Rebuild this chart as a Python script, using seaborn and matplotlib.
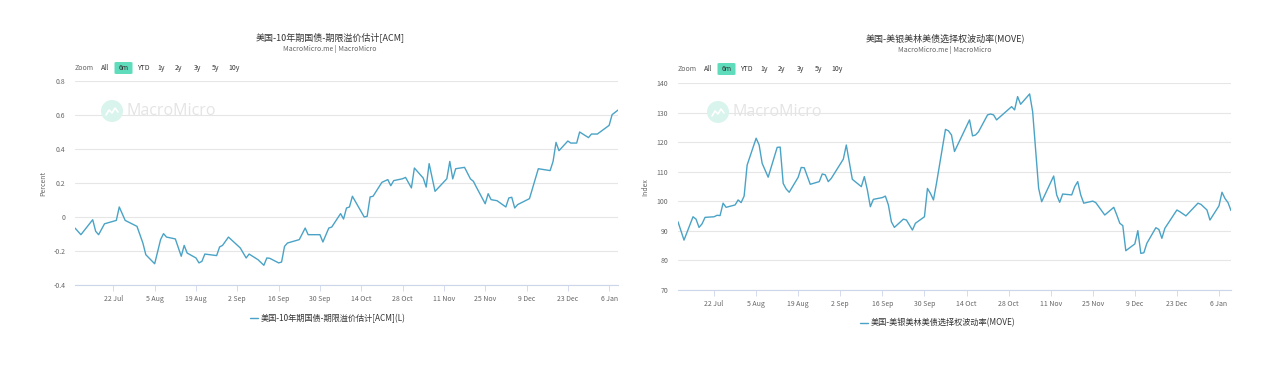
import numpy as np
import pandas as pd
import matplotlib.pyplot as plt
import matplotlib.dates as mdates
from matplotlib.patches import Ellipse, FancyBboxPatch
from matplotlib.lines import Line2D
import seaborn as sns

# ---- data ----
acm_dates = ["2024-07-09", "2024-07-11", "2024-07-15", "2024-07-16", "2024-07-17", "2024-07-19",
             "2024-07-23", "2024-07-24", "2024-07-26", "2024-07-30", "2024-08-01", "2024-08-02",
             "2024-08-05", "2024-08-07", "2024-08-08", "2024-08-09", "2024-08-12", "2024-08-14",
             "2024-08-15", "2024-08-16", "2024-08-19", "2024-08-20", "2024-08-21", "2024-08-22",
             "2024-08-26", "2024-08-27", "2024-08-28", "2024-08-30", "2024-09-03", "2024-09-05",
             "2024-09-06", "2024-09-09", "2024-09-11", "2024-09-12", "2024-09-13", "2024-09-16",
             "2024-09-17", "2024-09-18", "2024-09-19", "2024-09-23", "2024-09-25", "2024-09-26",
             "2024-09-30", "2024-10-01", "2024-10-03", "2024-10-04", "2024-10-07",
             "2024-10-08", "2024-10-09", "2024-10-10", "2024-10-11", "2024-10-15", "2024-10-16",
             "2024-10-17", "2024-10-18", "2024-10-21", "2024-10-23", "2024-10-24", "2024-10-25",
             "2024-10-28", "2024-10-29", "2024-10-31",
             "2024-11-01", "2024-11-04", "2024-11-05", "2024-11-06", "2024-11-08", "2024-11-12",
             "2024-11-13", "2024-11-14", "2024-11-15", "2024-11-18", "2024-11-20", "2024-11-21",
             "2024-11-22", "2024-11-25", "2024-11-26", "2024-11-27", "2024-11-29",
             "2024-12-02", "2024-12-03", "2024-12-04", "2024-12-05", "2024-12-06", "2024-12-10",
             "2024-12-13", "2024-12-17", "2024-12-18", "2024-12-19", "2024-12-20", "2024-12-23",
             "2024-12-24", "2024-12-26", "2024-12-27", "2024-12-30", "2024-12-31",
             "2025-01-02", "2025-01-06", "2025-01-07", "2025-01-09"]
acm_values = [-0.065, -0.104, -0.016, -0.084, -0.104, -0.04, -0.02, 0.059, -0.02, -0.055, -0.153, -0.222,
              -0.275, -0.133, -0.098, -0.118, -0.129, -0.231, -0.167, -0.212, -0.241, -0.27, -0.261, -0.218,
              -0.227, -0.176, -0.167, -0.118, -0.182, -0.241, -0.218, -0.251, -0.284, -0.241, -0.243, -0.27,
              -0.265, -0.173, -0.153, -0.133, -0.065, -0.104, -0.104, -0.147, -0.065, -0.059, 0.02,
              -0.012, 0.053, 0.059, 0.122, 0.0, 0.004, 0.118, 0.122, 0.204, 0.22, 0.184, 0.214,
              0.225, 0.233, 0.171,
              0.288, 0.229, 0.176, 0.314, 0.151, 0.225, 0.327, 0.224, 0.284, 0.292, 0.224, 0.21,
              0.176, 0.078, 0.137, 0.102, 0.096,
              0.059, 0.112, 0.116, 0.053, 0.073, 0.108, 0.284, 0.273, 0.327, 0.439, 0.39, 0.447,
              0.435, 0.435, 0.5, 0.467, 0.488,
              0.488, 0.539, 0.602, 0.629]

move_dates = ["2024-07-10", "2024-07-12", "2024-07-15", "2024-07-16", "2024-07-17", "2024-07-18",
              "2024-07-19", "2024-07-22", "2024-07-23", "2024-07-24", "2024-07-25", "2024-07-26",
              "2024-07-29", "2024-07-30", "2024-07-31", "2024-08-01", "2024-08-02", "2024-08-05",
              "2024-08-06", "2024-08-07", "2024-08-09", "2024-08-12", "2024-08-13", "2024-08-14",
              "2024-08-15", "2024-08-16", "2024-08-19", "2024-08-20", "2024-08-21", "2024-08-23",
              "2024-08-26", "2024-08-27", "2024-08-28", "2024-08-29", "2024-08-30", "2024-09-03",
              "2024-09-04", "2024-09-06", "2024-09-09", "2024-09-10", "2024-09-11", "2024-09-12",
              "2024-09-13", "2024-09-16", "2024-09-17", "2024-09-18", "2024-09-19", "2024-09-20",
              "2024-09-23", "2024-09-24", "2024-09-26", "2024-09-27", "2024-09-30", "2024-10-01",
              "2024-10-02", "2024-10-03", "2024-10-04", "2024-10-07", "2024-10-08", "2024-10-09",
              "2024-10-10", "2024-10-15", "2024-10-16", "2024-10-17", "2024-10-18", "2024-10-21",
              "2024-10-22", "2024-10-23", "2024-10-24", "2024-10-29", "2024-10-30", "2024-10-31",
              "2024-11-01", "2024-11-04", "2024-11-05", "2024-11-07", "2024-11-08", "2024-11-12",
              "2024-11-13", "2024-11-14", "2024-11-15", "2024-11-18", "2024-11-19", "2024-11-20",
              "2024-11-21", "2024-11-22", "2024-11-25", "2024-11-26", "2024-11-29", "2024-12-02",
              "2024-12-03", "2024-12-04", "2024-12-05", "2024-12-06", "2024-12-09", "2024-12-10",
              "2024-12-11", "2024-12-12", "2024-12-13", "2024-12-16", "2024-12-17", "2024-12-18",
              "2024-12-19", "2024-12-23", "2024-12-24", "2024-12-26", "2024-12-30", "2024-12-31",
              "2025-01-02", "2025-01-03", "2025-01-06", "2025-01-07", "2025-01-08", "2025-01-09",
              "2025-01-10"]
move_values = [93.1, 86.9, 94.8, 94.0, 91.2, 92.4,
               94.6, 94.8, 95.3, 95.2, 99.4, 98.0,
               98.8, 100.5, 99.6, 101.8, 112.3, 121.4,
               119.1, 112.9, 108.2, 118.3, 118.4, 106.1,
               104.2, 103.1, 108.2, 111.5, 111.4, 105.8,
               106.7, 109.3, 109.0, 106.7, 107.8, 114.3,
               119.1, 107.5, 105.0, 108.4, 103.9, 98.2,
               100.7, 101.3, 101.8, 98.8, 93.1, 91.2,
               94.0, 93.7, 90.3, 92.6, 94.8, 104.4,
               102.7, 100.5, 106.1, 124.4, 123.9, 122.5,
               116.9, 127.6, 122.2, 122.5, 123.6, 129.3,
               129.6, 129.3, 127.6, 132.1, 131.0, 135.5,
               132.9, 136.4, 130.4, 104.4, 99.9, 108.6,
               102.2, 99.7, 102.5, 102.2, 105.0, 106.7,
               102.2, 99.4, 100.1, 99.6, 95.4, 98.0,
               95.4, 92.6, 91.8, 83.3, 85.6, 90.1,
               82.4, 82.6, 85.8, 91.1, 90.5, 87.5,
               90.9, 97.1, 96.5, 95.1, 99.4, 99.0,
               97.1, 93.7, 98.5, 103.1, 101.0, 99.6,
               96.9]

acm_title = "美国-10年期国债-期限溢价估计[ACM]"
acm_legend = "美国-10年期国债-期限溢价估计[ACM](L)"
move_title = "美国-美银美林美债选择权波动率(MOVE)"
move_legend = "美国-美银美林美债选择权波动率(MOVE)"
subtitle = "MacroMicro.me | MacroMicro"
acm_yticks = [-0.4, -0.2, 0, 0.2, 0.4, 0.6, 0.8]
acm_yticklabels = ["-0.4", "-0.2", "0", "0.2", "0.4", "0.6", "0.8"]
move_yticks = [70, 80, 90, 100, 110, 120, 130, 140]
range_buttons = ["All", "6m", "YTD", "1y", "2y", "3y", "5y", "10y"]

sns.set_theme(style="white")
plt.rcParams['font.family'] = ['Noto Sans CJK SC', 'DejaVu Sans']

W, H = 1262, 379
fig = plt.figure(figsize=(W / 100, H / 100), dpi=100)
fig.patch.set_facecolor("white")

LINE = "#4aa3c6"
GRID = "#e6e6e6"
AXIS = "#ccd6eb"
LABEL = "#666666"


def fx(x):
    return x / W


def fy(y):
    return 1 - y / H


def draw_panel(rect, dates, values, yticks, yticklabels, ylim, ylabel, title, legend_text,
               cx, ty, sel_x, sel_y, wm_x, wm_y, legend_pos):
    ax = fig.add_axes(rect)
    df = pd.DataFrame({"date": pd.to_datetime(dates), "value": values})
    sns.lineplot(data=df, x="date", y="value", ax=ax, color=LINE, linewidth=1.0, label=legend_text)
    ax.set_xlim(df["date"].iloc[0], df["date"].iloc[-1])
    ax.set_ylim(*ylim)
    ax.set_yticks(yticks)
    ax.set_yticklabels(yticklabels)
    ticks = pd.date_range("2024-07-22", "2025-01-06", freq="14D")
    ax.set_xticks(ticks)
    ax.xaxis.set_major_formatter(mdates.DateFormatter("%-d %b"))
    ax.set_xlabel("")
    ax.set_ylabel(ylabel, fontsize=5, color=LABEL)
    ax.yaxis.set_label_coords(-0.052, 0.5)
    ax.grid(axis="y", color=GRID, linewidth=0.8)
    ax.grid(axis="x", visible=False)
    for s in ["top", "right", "left"]:
        ax.spines[s].set_visible(False)
    ax.spines["bottom"].set_color(AXIS)
    ax.spines["bottom"].set_linewidth(0.8)
    ax.tick_params(axis="x", colors=LABEL, labelsize=5, length=4, width=0.6, color=AXIS,
                   direction="out", pad=3, bottom=True)
    ax.tick_params(axis="y", colors=LABEL, labelsize=5, length=0, pad=7)
    ax.legend(loc="center", bbox_to_anchor=legend_pos, frameon=False, fontsize=5.9,
              handlelength=1.0, handletextpad=0.35, labelcolor="#333333")

    # title block
    fig.text(fx(cx), fy(ty), title, ha="center", va="center", fontsize=6.5, color="#333333")
    fig.text(fx(cx), fy(ty + 12), subtitle, ha="center", va="center", fontsize=5, color=LABEL)

    # range selector
    fig.text(fx(sel_x), fy(sel_y), "Zoom", ha="left", va="center", fontsize=5, color=LABEL)
    offsets = [26, 41, 62, 82, 100, 119, 137, 153]
    for lab, off in zip(range_buttons, offsets):
        if lab == "6m":
            fig.patches.append(FancyBboxPatch((fx(sel_x + off - 1.5), fy(sel_y + 6)), fx(18), 12 / H,
                                              boxstyle="round,pad=0,rounding_size=0.002",
                                              transform=fig.transFigure, facecolor="#5fdcbc",
                                              edgecolor="none"))
            fig.text(fx(sel_x + off + 7.5), fy(sel_y), lab, ha="center", va="center",
                     fontsize=5, color="#333333")
        else:
            fig.text(fx(sel_x + off), fy(sel_y), lab, ha="left", va="center", fontsize=5, color="#333333")

    # watermark
    fig.patches.append(Ellipse((fx(wm_x), fy(wm_y)), 22 / W, 22 / H, transform=fig.transFigure,
                               facecolor="#d8f4ec", edgecolor="none"))
    zx = [wm_x - 6, wm_x - 3, wm_x, wm_x + 3, wm_x + 6]
    zy = [wm_y + 4, wm_y - 1, wm_y + 2, wm_y - 3, wm_y + 1]
    fig.lines.append(Line2D([fx(v) for v in zx], [fy(v) for v in zy], transform=fig.transFigure,
                            color="white", linewidth=1.2))
    fig.text(fx(wm_x + 15), fy(wm_y), "MacroMicro", ha="left", va="center", fontsize=11.5,
             color="#e4e4e4", family="Open Sans")
    return ax


draw_panel([fx(75), fy(285), fx(618 - 75), (285 - 81) / H], acm_dates, acm_values,
           acm_yticks, acm_yticklabels, (-0.4, 0.8), "Percent", acm_title, acm_legend,
           330, 37, 75, 68, 112, 111, (0.466, -0.162))

draw_panel([fx(678), fy(290), fx(1231 - 678), (290 - 83.3) / H], move_dates, move_values,
           move_yticks, [str(v) for v in move_yticks], (70, 140), "Index", move_title, move_legend,
           945, 38, 678, 69, 718, 112, (0.47, -0.16))

fig.savefig("out.png", dpi=100, facecolor="white")
